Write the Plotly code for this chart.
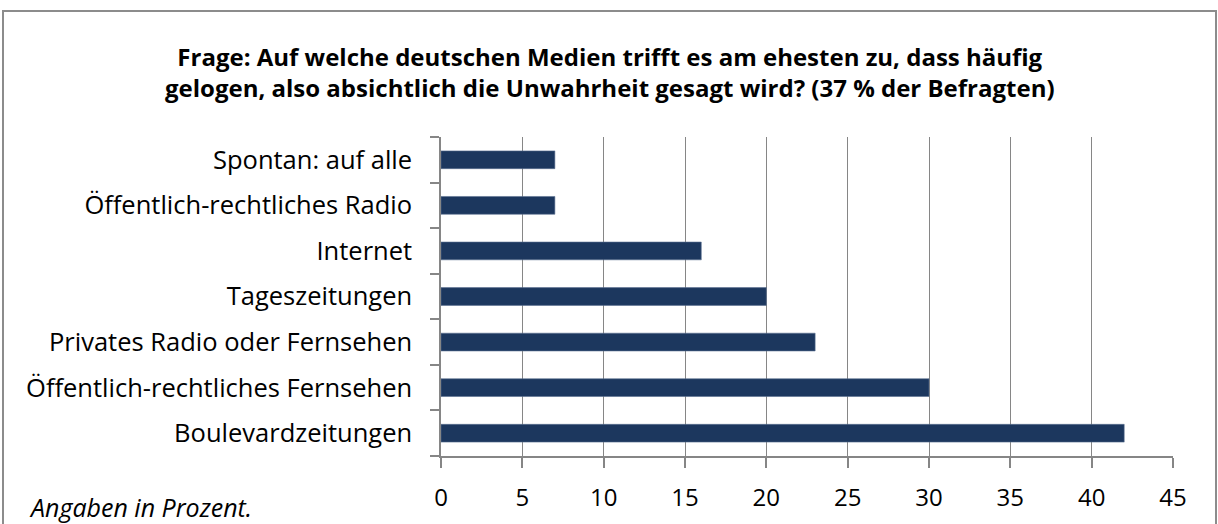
import plotly.graph_objects as go

categories = ["Boulevardzeitungen", "Öffentlich-rechtliches Fernsehen", "Privates Radio oder Fernsehen",
              "Tageszeitungen", "Internet", "Öffentlich-rechtliches Radio", "Spontan: auf alle"]
values = [42, 30, 23, 20, 16, 7, 7]
x_ticks = [0, 5, 10, 15, 20, 25, 30, 35, 40, 45]
title_text = ("<b>Frage: Auf welche deutschen Medien trifft es am ehesten zu, dass häufig<br>"
              "gelogen, also absichtlich die Unwahrheit gesagt wird? (37 % der Befragten)</b>")
note_text = "<i>Angaben in Prozent.</i>"

FONT = "Open Sans"
BAR = "#1c375e"
GRID = "#868686"

W, H = 1218, 524
L, R, T, B = 441, 45, 137, 68
pw, ph = W - L - R, H - T - B

fig = go.Figure(go.Bar(
    x=values, y=categories, orientation="h",
    marker=dict(color=BAR, line=dict(color="#5a7090", width=0.6)),
    hoverinfo="x+y",
))

fig.update_layout(
    width=W, height=H,
    margin=dict(l=L, r=R, t=T, b=B, pad=0),
    paper_bgcolor="white", plot_bgcolor="white",
    bargap=0.61,
    showlegend=False,
    font=dict(family=FONT, color="black", size=24),
    xaxis=dict(range=[0, 45], tickvals=x_ticks, showgrid=True, gridcolor=GRID, gridwidth=1,
               showline=True, linecolor=GRID, linewidth=1.5, ticks="outside", ticklen=10,
               tickcolor=GRID, tickwidth=1.5, zeroline=False, tickfont=dict(size=24),
               ticklabelstandoff=9, fixedrange=True),
    yaxis=dict(type="category", categoryorder="array", categoryarray=categories,
               showline=True, linecolor=GRID, linewidth=1.5, ticks="outside", ticklen=9,
               tickcolor=GRID, tickwidth=1.5, tickson="boundaries", showgrid=False,
               tickfont=dict(size=25.5), ticklabelstandoff=22, fixedrange=True),
    annotations=[
        dict(text=title_text, xref="paper", yref="paper",
             x=(610 - L) / pw, y=1 + (T - 72) / ph, xanchor="center", yanchor="middle",
             showarrow=False, font=dict(family=FONT, size=24, color="black"), align="center"),
        dict(text=note_text, xref="paper", yref="paper",
             x=(27 - L) / pw, y=-(507 - (T + ph)) / ph, xanchor="left", yanchor="middle",
             showarrow=False, font=dict(family=FONT, size=25, color="black"), align="left"),
    ],
    shapes=[
        dict(type="rect", xref="paper", yref="paper",
             x0=(3 - L) / pw, x1=(1216 - L) / pw, y0=-(540 - (T + ph)) / ph, y1=1 + (T - 11) / ph,
             line=dict(color="#8c8c8c", width=2), fillcolor="rgba(0,0,0,0)", layer="below"),
    ],
)

fig.write_html("out.html", config={"displayModeBar": False},
               post_script="document.body.style.margin='0';document.body.style.overflow='hidden';")
